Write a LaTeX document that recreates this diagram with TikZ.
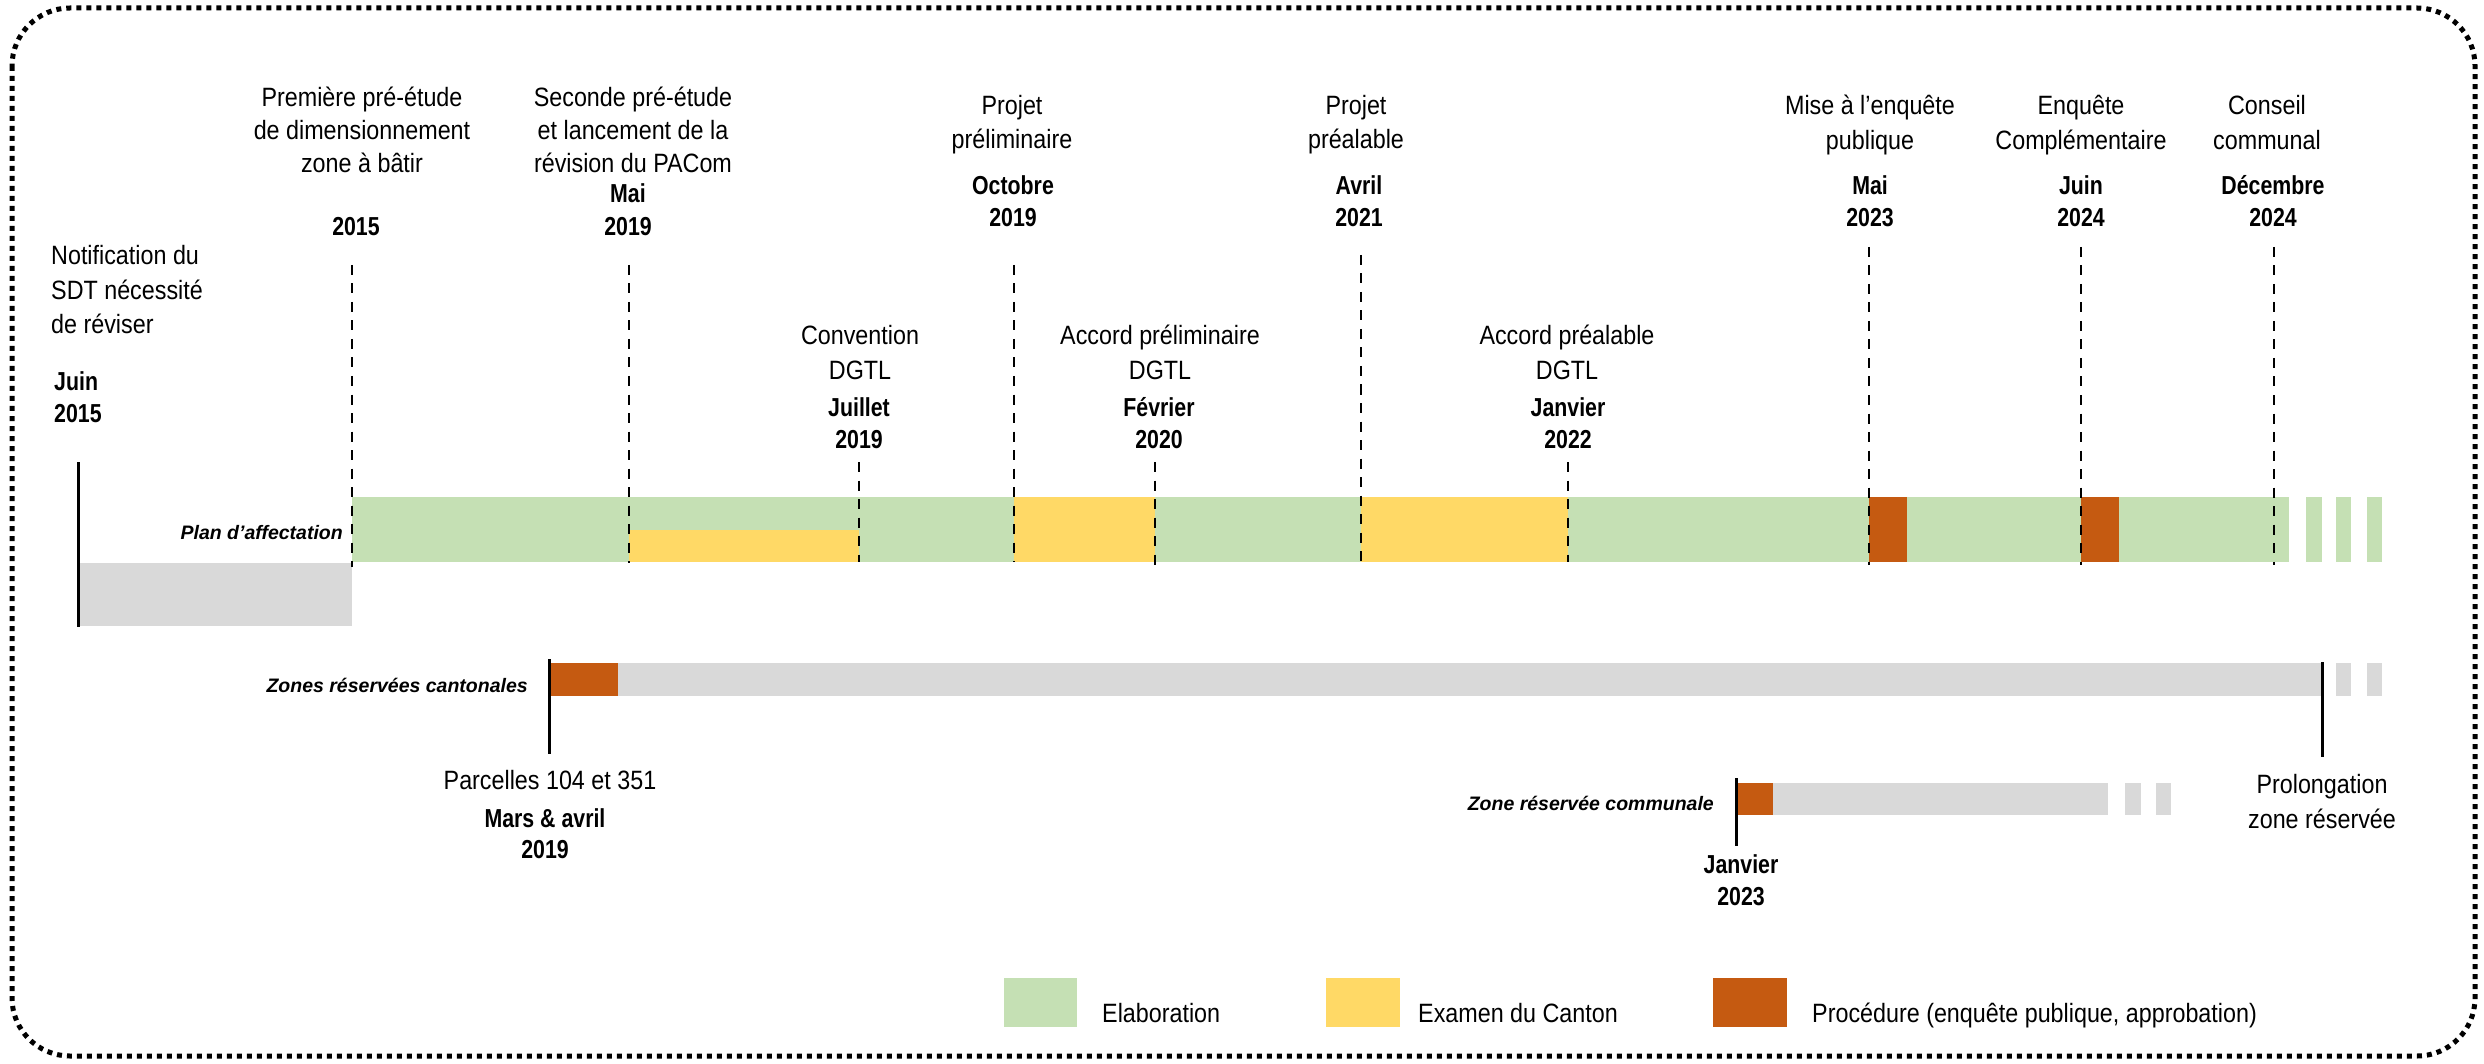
\documentclass[tikz,border=0pt]{standalone}
\usepackage{fontspec}
\setmainfont{Liberation Sans}
\newfontfamily\narrowreg{Liberation Sans}[FakeStretch=0.88]
\newfontfamily\narrowbld{Liberation Sans}[FakeStretch=0.82]
\definecolor{elab}{HTML}{C5E0B4}
\definecolor{exam}{HTML}{FFD966}
\definecolor{proc}{HTML}{C55A11}
\definecolor{zgrey}{HTML}{D9D9D9}
\begin{document}
\begin{tikzpicture}[x=1pt,y=-1pt,
  reg/.style={font=\narrowreg\fontsize{26.5}{34}\selectfont, anchor=base, inner sep=0pt},
  bld/.style={font=\narrowbld\fontsize{26}{31}\selectfont\bfseries, anchor=base, inner sep=0pt},
  ital/.style={font=\fontsize{19.5}{24}\selectfont\bfseries\itshape, anchor=base east, inner sep=0pt},
  dsh/.style={line width=2.5pt, dash pattern=on 10pt off 8.5pt},
  sol/.style={line width=3pt},
  frame/.style={line width=5pt, dash pattern=on 5pt off 5pt, rounded corners=58pt}]
\useasboundingbox (0,0) rectangle (2484,1064);
\draw[frame] (12,8) rectangle (2475,1056);

% bars - plan d'affectation
\fill[zgrey] (78,563) rectangle (352,626);
\fill[elab] (352,497) rectangle (2289,562);
\fill[exam] (629,530) rectangle (859,562);
\fill[exam] (1014,497) rectangle (1155,562);
\fill[exam] (1361,497) rectangle (1568,562);
\fill[proc] (1869,497) rectangle (1907,562);
\fill[proc] (2081,497) rectangle (2119,562);
\fill[elab] (2306,497) rectangle (2322,562);
\fill[elab] (2336,497) rectangle (2351,562);
\fill[elab] (2367,497) rectangle (2382,562);
% zones cantonales
\fill[proc] (549,663) rectangle (618,696);
\fill[zgrey] (618,663) rectangle (2322,696);
\fill[zgrey] (2336,663) rectangle (2351,696);
\fill[zgrey] (2367,663) rectangle (2382,696);
% zone communale
\fill[proc] (1736,783) rectangle (1773,815);
\fill[zgrey] (1773,783) rectangle (2108,815);
\fill[zgrey] (2125,783) rectangle (2141,815);
\fill[zgrey] (2156,783) rectangle (2171,815);

% solid markers
\draw[sol] (78,462) -- (78,627);
\draw[sol] (549,659) -- (549,754);
\draw[sol] (2322,662) -- (2322,757);
\draw[sol] (1736,778) -- (1736,846);

% dashed markers
\draw[dsh] (352,265) -- (352,567);
\draw[dsh] (629,265) -- (629,563);
\draw[dsh] (859,462) -- (859,562);
\draw[dsh] (1014,265) -- (1014,562);
\draw[dsh] (1155,462) -- (1155,565);
\draw[dsh] (1361,255) -- (1361,562);
\draw[dsh] (1568,462) -- (1568,562);
\draw[dsh] (1869,247) -- (1869,565);
\draw[dsh] (2081,247) -- (2081,565);
\draw[dsh] (2274,247) -- (2274,565);

% texts
\node[reg, anchor=base west] (n1a) at (51,265) {Notification du};
\node[reg, anchor=base west] (n1b) at (51,300) {SDT nécessité};
\node[reg, anchor=base west] (n1c) at (51,334) {de réviser};
\node[bld, anchor=base west] (n1d) at (54,390) {Juin};
\node[bld, anchor=base west] (n1e) at (54,422) {2015};

\node[reg] (n2a) at (362,107) {Première pré-étude};
\node[reg] (n2b) at (362,140) {de dimensionnement};
\node[reg] (n2c) at (362,173) {zone à bâtir};
\node[bld] (n2d) at (356,236) {2015};

\node[reg] (n3a) at (633,107) {Seconde pré-étude};
\node[reg] (n3b) at (633,140) {et lancement de la};
\node[reg] (n3c) at (633,173) {révision du PACom};
\node[bld] (n3d) at (628,203) {Mai};
\node[bld] (n3e) at (628,236) {2019};

\node[reg] (n4a) at (860,345) {Convention};
\node[reg] (n4b) at (860,380) {DGTL};
\node[bld] (n4c) at (859,417) {Juillet};
\node[bld] (n4d) at (859,448) {2019};

\node[reg] (n5a) at (1012,115) {Projet};
\node[reg] (n5b) at (1012,149) {préliminaire};
\node[bld] (n5c) at (1013,195) {Octobre};
\node[bld] (n5d) at (1013,227) {2019};

\node[reg] (n6a) at (1160,345) {Accord préliminaire};
\node[reg] (n6b) at (1160,380) {DGTL};
\node[bld] (n6c) at (1159,417) {Février};
\node[bld] (n6d) at (1159,448) {2020};

\node[reg] (n7a) at (1356,115) {Projet};
\node[reg] (n7b) at (1356,149) {préalable};
\node[bld] (n7c) at (1359,195) {Avril};
\node[bld] (n7d) at (1359,227) {2021};

\node[reg] (n8a) at (1567,345) {Accord préalable};
\node[reg] (n8b) at (1567,380) {DGTL};
\node[bld] (n8c) at (1568,417) {Janvier};
\node[bld] (n8d) at (1568,448) {2022};

\node[reg] (n9a) at (1870,115) {Mise à l’enquête};
\node[reg] (n9b) at (1870,150) {publique};
\node[bld] (n9c) at (1870,195) {Mai};
\node[bld] (n9d) at (1870,227) {2023};

\node[reg] (n10a) at (2081,115) {Enquête};
\node[reg] (n10b) at (2081,150) {Complémentaire};
\node[bld] (n10c) at (2081,195) {Juin};
\node[bld] (n10d) at (2081,227) {2024};

\node[reg] (n11a) at (2267,115) {Conseil};
\node[reg] (n11b) at (2267,150) {communal};
\node[bld] (n11c) at (2273,195) {Décembre};
\node[bld] (n11d) at (2273,227) {2024};

\node[ital] (l1) at (343,539) {Plan d’affectation};
\node[ital] (l2) at (528,692) {Zones réservées cantonales};
\node[ital] (l3) at (1714,810) {Zone réservée communale};

\node[reg] (p1) at (550,789) {Parcelles 104 et 351};
\node[bld] (p2) at (545,827) {Mars \& avril};
\node[bld] (p3) at (545,858) {2019};

\node[reg] (q1) at (2322,793) {Prolongation};
\node[reg] (q2) at (2322,828) {zone réservée};

\node[bld] (j1) at (1741,873) {Janvier};
\node[bld] (j2) at (1741,905) {2023};

% legend
\fill[elab] (1004,978) rectangle (1077,1027);
\fill[exam] (1326,978) rectangle (1400,1027);
\fill[proc] (1713,978) rectangle (1787,1027);
\node[reg, anchor=base west] (g1) at (1102,1022) {Elaboration};
\node[reg, anchor=base west] (g2) at (1418,1022) {Examen du Canton};
\node[reg, anchor=base west] (g3) at (1812,1022) {Procédure (enquête publique, approbation)};
\end{tikzpicture}
\end{document}
